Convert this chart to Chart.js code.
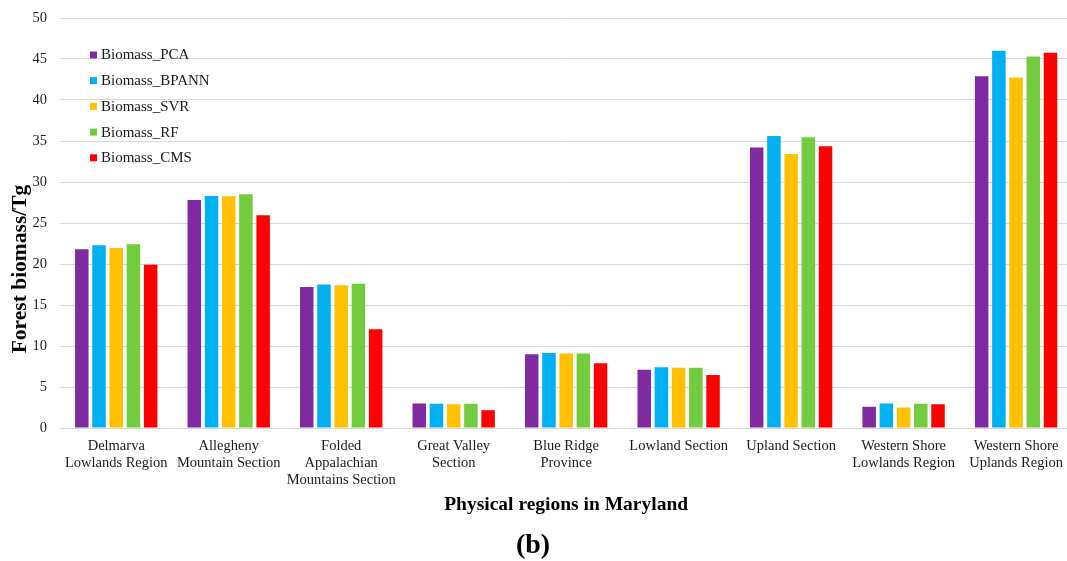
<!DOCTYPE html>
<html>
<head>
<meta charset="utf-8">
<title>Forest biomass by physical region in Maryland</title>
<script src="https://cdn.jsdelivr.net/npm/chart.js@4/dist/chart.umd.min.js"></script>
<style>
  html, body { margin: 0; padding: 0; background: #ffffff; overflow: hidden; }
  #wrap { position: relative; width: 1073px; height: 561px; }
</style>
</head>
<body>
<div id="wrap"><canvas id="chart"></canvas></div>
<script>
// Physical regions of Maryland (multi-line category labels)
const regions = [
  ["Delmarva", "Lowlands Region"],
  ["Allegheny", "Mountain Section"],
  ["Folded", "Appalachian", "Mountains Section"],
  ["Great Valley", "Section"],
  ["Blue Ridge", "Province"],
  ["Lowland Section"],
  ["Upland Section"],
  ["Western Shore", "Lowlands Region"],
  ["Western Shore", "Uplands Region"]
];

// Forest biomass estimates (Tg) per method
const biomassPCA   = [21.8, 27.8, 17.2, 3.0, 9.0, 7.1, 34.2, 2.6, 42.9];
const biomassBPANN = [22.3, 28.3, 17.5, 2.95, 9.15, 7.4, 35.6, 3.0, 46.0];
const biomassSVR   = [21.95, 28.25, 17.4, 2.9, 9.1, 7.35, 33.4, 2.5, 42.75];
const biomassRF    = [22.4, 28.5, 17.6, 2.95, 9.1, 7.35, 35.45, 2.95, 45.3];
const biomassCMS   = [19.9, 25.95, 12.05, 2.15, 7.9, 6.45, 34.35, 2.9, 45.75];

const seriesNames  = ["Biomass_PCA", "Biomass_BPANN", "Biomass_SVR", "Biomass_RF", "Biomass_CMS"];
const seriesColors = ["#7F2AA0", "#00B0F0", "#FFC000", "#71CD3E", "#FF0000"];
const seriesValues = [biomassPCA, biomassBPANN, biomassSVR, biomassRF, biomassCMS];

// y axis range and step
const yMin = 0, yMax = 50, yStep = 5;

const xTitle = "Physical regions in Maryland";
const yTitle = "Forest biomass/Tg";
const panelTag = "(b)";

const serif = "'Liberation Serif', 'Times New Roman', serif";

// Vertical legend inside the plot's upper-left corner, plus the y title and panel tag
const annotations = {
  id: "annotations",
  afterDraw(chart) {
    const ctx = chart.ctx;
    const area = chart.chartArea;
    ctx.save();

    // legend
    ctx.font = "15px " + serif;
    ctx.textBaseline = "middle";
    ctx.textAlign = "left";
    chart.data.datasets.forEach((ds, i) => {
      const cy = area.top + 37 + i * 25.7;
      ctx.fillStyle = ds.backgroundColor;
      ctx.fillRect(area.left + 30, cy - 3.5, 7, 7);
      ctx.fillStyle = "#1a1a1a";
      ctx.fillText(ds.label, area.left + 41, cy + 0.5);
    });

    // y axis title, centred on plot plus category labels
    ctx.font = "bold 21.5px " + serif;
    ctx.fillStyle = "#000000";
    ctx.textAlign = "center";
    ctx.textBaseline = "middle";
    ctx.translate(20, 269);
    ctx.rotate(-Math.PI / 2);
    ctx.fillText(yTitle, 0, 0);
    ctx.setTransform(1, 0, 0, 1, 0, 0);

    // panel tag
    ctx.font = "bold 28px " + serif;
    ctx.fillText(panelTag, 533, 546);

    ctx.restore();
  }
};

new Chart(document.getElementById("chart"), {
  type: "bar",
  data: {
    labels: regions,
    datasets: seriesNames.map((name, i) => ({
      label: name,
      data: seriesValues[i],
      backgroundColor: seriesColors[i],
      borderWidth: 0,
      categoryPercentage: 0.765,
      barPercentage: 0.785
    }))
  },
  options: {
    responsive: true,
    maintainAspectRatio: false,
    animation: false,
    layout: { padding: { top: 18, right: 0, bottom: 0, left: 0 } },
    plugins: {
      legend: { display: false },
      tooltip: { enabled: false },
      title: { display: false }
    },
    scales: {
      x: {
        grid: { display: false, drawTicks: false },
        border: { display: true, color: "#D9D9D9", width: 1 },
        ticks: {
          autoSkip: false,
          maxRotation: 0,
          minRotation: 0,
          padding: 10,
          color: "#1a1a1a",
          font: { family: serif, size: 14.5, lineHeight: 1.17 }
        },
        title: {
          display: true,
          text: xTitle,
          color: "#000000",
          font: { family: serif, size: 19.5, weight: "bold" },
          padding: { top: 0, bottom: 44 }
        },
        afterFit(scale) { scale.height = 133; }
      },
      y: {
        min: yMin,
        max: yMax,
        grid: { color: "#D9D9D9", lineWidth: 1, drawTicks: false },
        border: { display: false },
        ticks: {
          stepSize: yStep,
          padding: 13,
          color: "#1f1f1f",
          font: { family: serif, size: 14.5, lineHeight: 0.6 }
        },
        afterFit(scale) { scale.width = 60; }
      }
    }
  },
  plugins: [annotations]
});
</script>
</body>
</html>
